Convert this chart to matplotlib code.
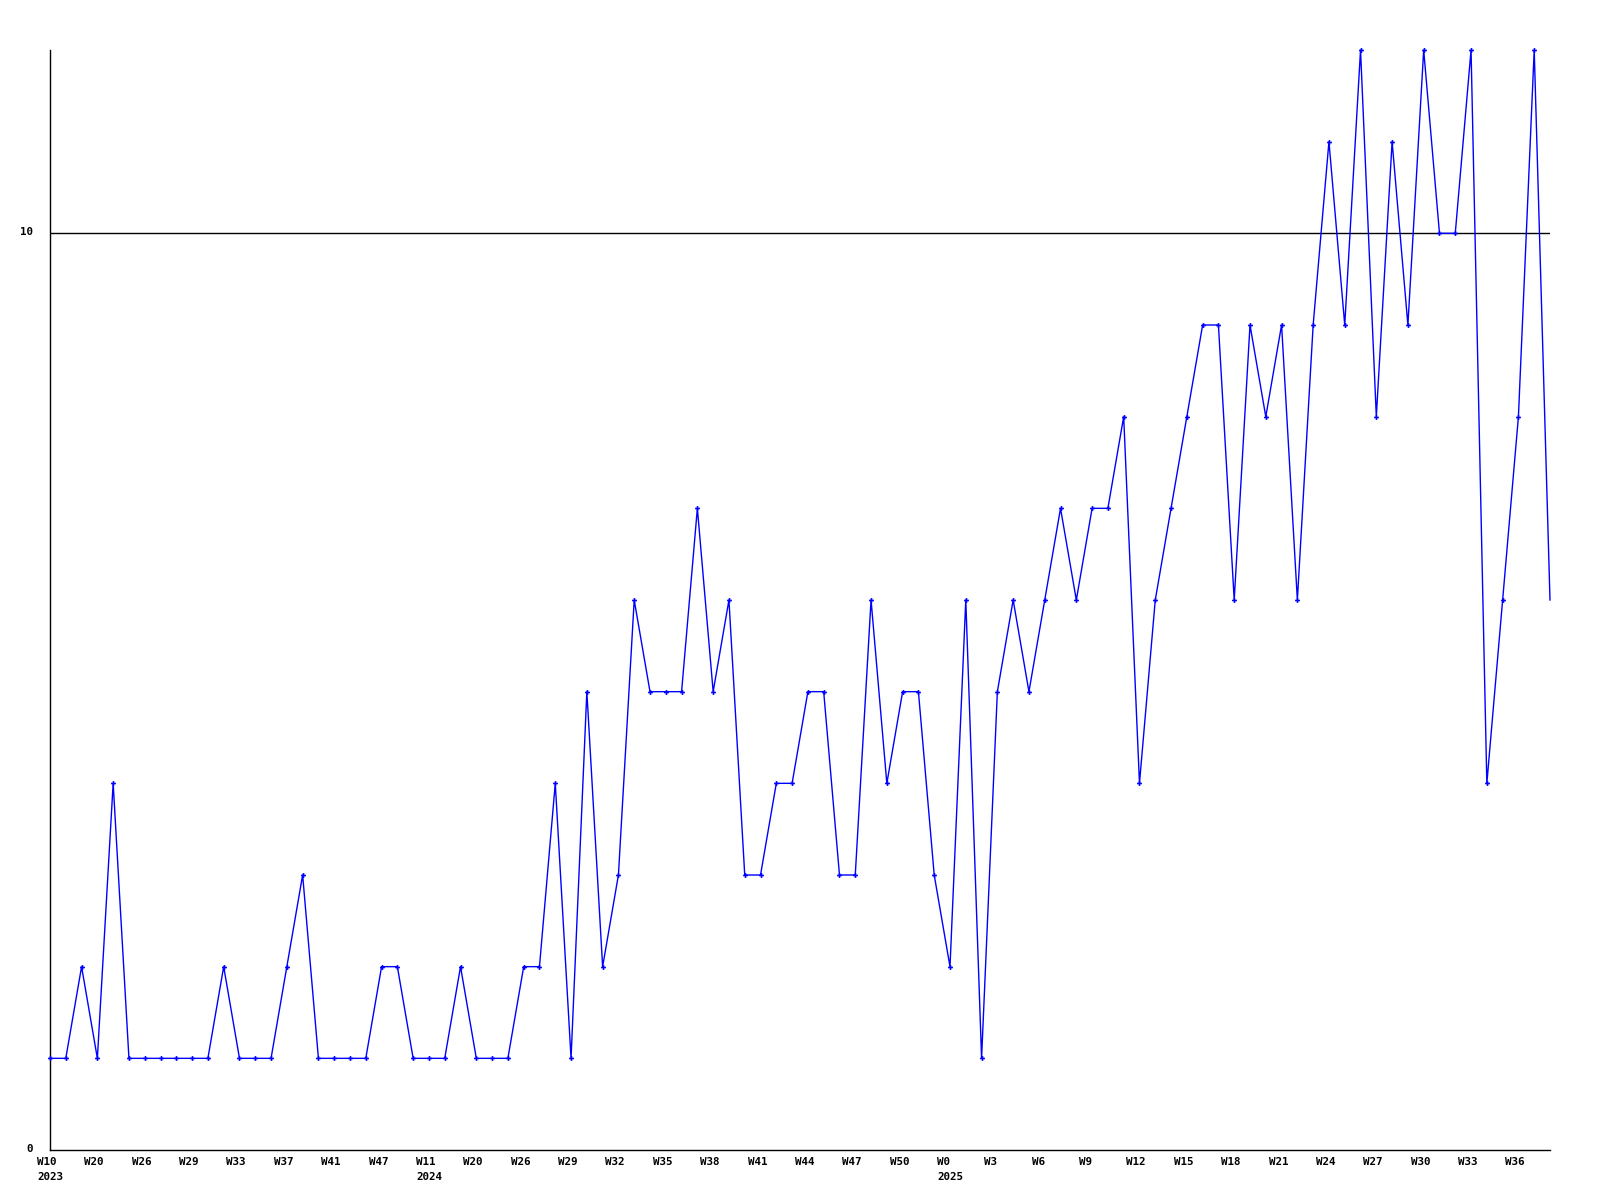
import matplotlib
matplotlib.use("Agg")
import matplotlib.pyplot as plt

## Data
values = [
    1, 1, 2, 1, 4, 1, 1, 1, 1, 1, 1, 2, 1, 1, 1, 2, 3, 1, 1, 1,
    1, 2, 2, 1, 1, 1, 2, 1, 1, 1, 2, 2, 4, 1, 5, 2, 3, 6, 5, 5,
    5, 7, 5, 6, 3, 3, 4, 4, 5, 5, 3, 3, 6, 4, 5, 5, 3, 2, 6, 1,
    5, 6, 5, 6, 7, 6, 7, 7, 8, 4, 6, 7, 8, 9, 9, 6, 9, 8, 9, 6,
    9, 11, 9, 12, 8, 11, 9, 12, 10, 10, 12, 4, 6, 8, 12, 6,
]
week_labels = [
    "W10", "W20", "W26", "W29", "W33", "W37", "W41", "W47",
    "W11", "W20", "W26", "W29", "W32", "W35", "W38", "W41",
    "W44", "W47", "W50", "W0", "W3", "W6", "W9", "W12",
    "W15", "W18", "W21", "W24", "W27", "W30", "W33", "W36",
]
year_labels = {0: "2023", 8: "2024", 19: "2025"}  # index into week_labels
label_step = 3
y_ticks = [0, 10]
threshold = 10

## Plot
fig = plt.figure(figsize=(16, 12), dpi=100)
ax = fig.add_axes([50 / 1600, 50 / 1200, 1500 / 1600, 1100 / 1200])

x = list(range(len(values)))
ax.plot(
    x,
    values,
    color="#0000ff",
    linewidth=1.0,
    marker="P",
    markersize=3.5,
    markeredgewidth=0,
    markevery=list(range(len(values) - 1)),  # last point has no marker
    clip_on=False,
    zorder=3,
)

# reference line at 10
ax.axhline(threshold, color="black", linewidth=1.0, zorder=2)

ax.set_xlim(0, len(values) - 1)
ax.set_ylim(0, 12)

for s in ["top", "right"]:
    ax.spines[s].set_visible(False)
for s in ["left", "bottom"]:
    ax.spines[s].set_linewidth(1.0)

ax.set_xticks([])
ax.set_yticks([])

font = dict(family="DejaVu Sans Mono", fontweight="bold", fontsize=7.8)

# y labels
for yt in y_ticks:
    ax.annotate(
        str(yt), xy=(0, yt), xycoords=("axes fraction", "data"),
        xytext=(-17, 1), textcoords="offset pixels",
        ha="right", va="center", **font,
    )

# x labels
for i, lab in enumerate(week_labels):
    xi = i * label_step
    ax.annotate(
        lab, xy=(xi, 0), xycoords="data",
        xytext=(-13, -12), textcoords="offset pixels",
        ha="left", va="center", annotation_clip=False, **font,
    )
    if i in year_labels:
        ax.annotate(
            year_labels[i], xy=(xi, 0), xycoords="data",
            xytext=(-13, -27), textcoords="offset pixels",
            ha="left", va="center", annotation_clip=False, **font,
        )

fig.savefig("out.png", dpi=100)
